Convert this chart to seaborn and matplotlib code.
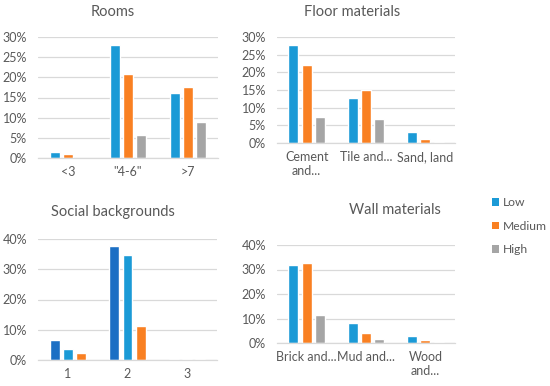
import matplotlib
matplotlib.use("Agg")
import matplotlib.pyplot as plt
import seaborn as sns
import pandas as pd
from matplotlib.patches import Patch
from matplotlib.ticker import PercentFormatter

levels = ["Low", "Medium", "High"]

rooms_cats = ["<3", "\"4-6\"", ">7"]
rooms_low = [0.016, 0.279, 0.162]
rooms_med = [0.011, 0.209, 0.176]
rooms_high = [0.001, 0.056, 0.090]

floor_cats = ["Cement\nand...", "Tile and...", "Sand, land"]
floor_low = [0.277, 0.126, 0.032]
floor_med = [0.221, 0.150, 0.010]
floor_high = [0.075, 0.067, 0.003]

social_cats = ["1", "2", "3"]
social_low = [0.065, 0.378, 0.003]
social_med = [0.036, 0.346, 0.002]
social_high = [0.022, 0.114, 0.002]

wall_cats = ["Brick and...", "Mud and...", "Wood\nand..."]
wall_low = [0.319, 0.080, 0.030]
wall_med = [0.326, 0.041, 0.011]
wall_high = [0.113, 0.016, 0.003]

C_LOW = "#1b9ad6"
C_MED = "#f98022"
C_HIGH = "#a5a5a5"
C_DARK = "#1c6fc4"
TXT = "#595959"
GRID = "#d9d9d9"

sns.set_theme(style="white")
plt.rcParams["font.family"] = ["Lato", "DejaVu Sans"]

W, H = 550, 386
fig = plt.figure(figsize=(W / 100, H / 100), dpi=100)
FS = 9


def make_df(cats, low, med, high):
    rows = []
    for c, a, b, d in zip(cats, low, med, high):
        rows.append((c, levels[0], a))
        rows.append((c, levels[1], b))
        rows.append((c, levels[2], d))
    return pd.DataFrame(rows, columns=["cat", "level", "value"])


def panel(px, cats, low, med, high, ymax, step, title, tx, ty, palette):
    x0, x1, ytop, ybot = px
    ax = fig.add_axes([x0 / W, 1 - ybot / H, (x1 - x0) / W, (ybot - ytop) / H])
    df = make_df(cats, low, med, high)
    sns.barplot(data=df, x="cat", y="value", hue="level", order=cats,
                hue_order=levels, palette=palette, width=0.67, gap=0.25,
                legend=False, ax=ax, saturation=1)
    ax.set_ylim(0, ymax)
    ax.set_xlim(-0.5, len(cats) - 0.5)
    ticks = [i * step for i in range(int(round(ymax / step)) + 1)]
    ax.set_yticks(ticks)
    ax.yaxis.set_major_formatter(PercentFormatter(1.0, decimals=0))
    ax.grid(axis="y", color=GRID, linewidth=0.9)
    ax.set_axisbelow(True)
    for s in ["top", "right", "left"]:
        ax.spines[s].set_visible(False)
    ax.spines["bottom"].set_color(GRID)
    ax.spines["bottom"].set_linewidth(0.9)
    ax.tick_params(axis="both", length=0, colors=TXT, labelsize=FS)
    ax.tick_params(axis="y", pad=8)
    ax.tick_params(axis="x", pad=6)
    for lab in ax.get_xticklabels():
        lab.set_linespacing(1.2)
        lab.set_verticalalignment("top")
    ax.set_xlabel("")
    ax.set_ylabel("")
    fig.text(tx / W, 1 - ty / H, title, ha="center", va="center",
             fontsize=10.5, color=TXT)
    return ax


std_pal = [C_LOW, C_MED, C_HIGH]
panel((38, 218, 37, 158), rooms_cats, rooms_low, rooms_med, rooms_high,
      0.30, 0.05, "Rooms", 113, 12, std_pal)
panel((277, 455, 37, 143), floor_cats, floor_low, floor_med, floor_high,
      0.30, 0.05, "Floor materials", 352, 12, std_pal)
panel((38, 217, 239, 360), social_cats, social_low, social_med, social_high,
      0.40, 0.10, "Social backgrounds", 113, 212, [C_DARK, C_LOW, C_MED])
panel((277, 455, 245, 343), wall_cats, wall_low, wall_med, wall_high,
      0.40, 0.10, "Wall materials", 395, 210, std_pal)

handles = [Patch(facecolor=c, edgecolor="none") for c in std_pal]
fig.legend(handles, levels, loc="upper left", bbox_to_anchor=(492 / W, 1 - 197 / H),
           frameon=False, fontsize=8.7, labelcolor=TXT, handlelength=0.6,
           handleheight=0.6, handletextpad=0.3, labelspacing=1.05,
           borderpad=0, borderaxespad=0)

fig.savefig("out.png", dpi=100, facecolor="white")
